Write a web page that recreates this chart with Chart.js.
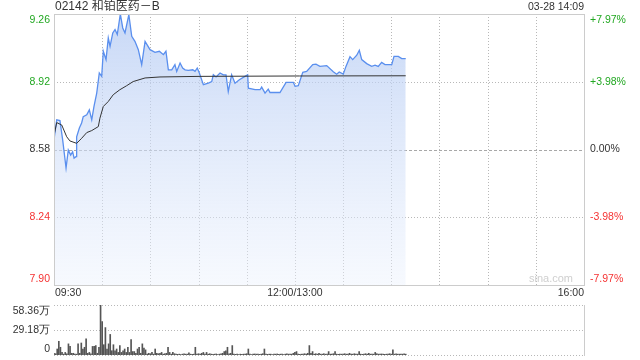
<!DOCTYPE html>
<html>
<head>
<meta charset="utf-8">
<script src="https://cdn.jsdelivr.net/npm/chart.js@4/dist/chart.umd.min.js"></script>
<style>
body { margin: 0; background: #fff; }
#wrap { position: relative; width: 640px; height: 360px; }
#wrap canvas { position: absolute; left: 0; top: 0; }
</style>
</head>
<body>
<div id="wrap">
    <canvas id="priceChart" width="640" height="360"></canvas>
    <canvas id="volChart" width="640" height="360"></canvas>
</div>
<script>
// Data (minutes counted from 09:30, lunch break removed)

const title = '02142 和铂医药－B';
const stamp = '03-28 14:09';
const prevClose = 8.58;

const priceTicks = [7.90, 8.24, 8.58, 8.92, 9.26];
const pctTicks = ['-7.97%', '-3.98%', '0.00%', '+3.98%', '+7.97%'];
const gridMinutes = [0, 30, 60, 90, 120, 150, 180, 210, 240, 270, 300, 330];
const timeLabels = ['09:30', '12:00/13:00', '16:00'];
const timeLabelMinutes = [0, 150, 330];

const volTicks = [0, 29.18, 58.36];
const volTickLabels = ['0', '29.18万', '58.36万'];

const priceMinutes = [0, 1.7, 3.7, 5.4, 7.5, 8.9, 10.4, 11.6, 12.5, 13.7, 14.1, 15.8, 17.2, 18.2, 20.4, 22, 23.5, 24.9, 26.6, 28.2,
    29.7, 30.7, 32.4, 33.8, 34.9, 36.6, 38, 39.4, 41.3, 42.8, 44.2, 46.6, 48.4, 50.4, 52.5, 54.6, 56.7, 59.8, 62.9, 65.6,
    68.1, 69.7, 71.2, 73.3, 75.3, 76.4, 78.5, 80.1, 81.6, 83.6, 86.4, 87.8, 89.2, 90.5, 93, 96.1, 98.2, 99.2, 100.9, 103.4,
    105.4, 107.1, 108.5, 110.6, 112.7, 115.4, 118.9, 120.6, 121, 125.2, 128.3, 129.3, 131.4, 133.4, 134.5, 140.7, 144.5, 149, 150.1, 152.1,
    154.9, 157.3, 161.1, 163.1, 165.6, 169.8, 173.9, 176, 177.6, 180.1, 181.8, 184.3, 186, 188.5, 190.1, 191.6, 194.7, 197.8, 199.9, 201.9,
    204, 206.1, 210.3, 211.7, 214.4, 216.5, 219];
const prices = [8.63, 8.729, 8.725, 8.628, 8.487, 8.577, 8.552, 8.569, 8.537, 8.544, 8.644, 8.688, 8.713, 8.745, 8.754, 8.779, 8.729, 8.796, 8.863, 8.964,
    8.947, 9.073, 9.031, 9.14, 9.098, 9.165, 9.182, 9.157, 9.26, 9.19, 9.165, 9.257, 9.148, 9.123, 9.081, 9.006, 9.123, 9.081, 9.068, 9.073,
    9.056, 9.073, 8.98, 8.98, 9.006, 8.972, 9.014, 8.989, 8.98, 8.977, 8.98, 8.972, 8.989, 8.964, 8.905, 8.913, 8.921, 8.955, 8.944, 8.964,
    8.955, 8.955, 8.871, 8.955, 8.913, 8.93, 8.947, 8.955, 8.888, 8.88, 8.88, 8.893, 8.863, 8.883, 8.866, 8.866, 8.917, 8.917, 8.897, 8.9,
    8.967, 8.972, 9.006, 9.008, 8.997, 9.001, 8.97, 8.958, 8.969, 8.958, 8.997, 9.046, 9.031, 9.053, 9.078, 9.031, 9.011, 8.997, 9.003, 8.997,
    9.017, 9.006, 9.006, 9.047, 9.047, 9.036, 9.036];

const avgMinutes = [0, 1.7, 4.8, 7.9, 9.9, 14.1, 17.2, 20.4, 23.5, 27.6, 28.6, 30.7, 33.8, 36.9, 41, 45.2, 49.3, 56.7, 66, 90.9, 153, 219];
const avgPrices = [8.65, 8.715, 8.703, 8.644, 8.623, 8.611, 8.636, 8.665, 8.675, 8.695, 8.737, 8.796, 8.821, 8.855, 8.88, 8.9, 8.921, 8.939, 8.944, 8.947, 8.949, 8.95];

// volume per minute, in 万 shares
const volumes = [
    2, 1.5, 7, 16, 9, 3, 1, 3, 1.5, 13, 10, 2, 2, 1.2, 1, 13, 2, 14, 7, 9,
    19, 2, 3, 1.5, 10, 10, 11, 2, 9, 58.4, 39, 12, 32, 7, 13, 24, 5, 12, 5, 7,
    3, 11, 3, 5, 7, 3, 9, 3, 18, 4, 4, 2, 7, 9, 2, 13, 8, 6, 1.2, 2,
    1.5, 3, 1, 7, 2, 1.5, 2, 3, 1, 1.5, 2, 9, 3, 1, 3, 1.5, 1, 0.8, 1, 0.5,
    1, 1.5, 1, 1, 2.5, 1, 0.8, 1, 9, 1, 1.5, 1, 2, 3, 1, 3, 1, 1.5, 1, 0.8,
    1, 1.2, 0.5, 1, 1.5, 2, 4, 5, 9, 1.5, 2, 11, 1, 0.8, 1, 0.5, 1, 0.8, 1, 1,
    1.5, 7, 1, 0.5, 1, 1.2, 1, 1, 0.8, 1, 1.5, 7, 1, 0.8, 1, 1, 0.5, 1, 1, 1.2,
    0.8, 1, 1, 0.5, 1, 1.5, 1, 1, 1, 2, 3, 4, 1, 0.8, 1, 1, 1.5, 1, 2, 11,
    2, 4, 1, 1.5, 1, 2, 1, 1, 1.5, 1, 1, 4, 1, 1, 1.5, 4, 1, 0.8, 1, 1,
    1, 1.5, 1, 1, 2, 1, 1, 1.5, 1, 1, 4, 1, 0.8, 1, 1.5, 1, 2, 1, 1, 1,
    3, 1.5, 1, 1, 1.2, 1, 0.8, 1, 1, 1.5, 1, 6, 1, 1.5, 1, 1, 1.2, 1, 1.5, 1
];

const upColor = '#22a822';
const downColor = '#f53333';
const textColor = '#333';
const labelFont = '10.5px "Liberation Sans", Arial, sans-serif';
const titleFont = '12px "Liberation Sans", Arial, "Noto Sans CJK SC", sans-serif';

// axes take no room: the chart area is set by layout padding only
const bareAxis = {
    ticks: { display: false },
    grid: { display: false, drawTicks: false },
    border: { display: false },
};

// dotted grid lines, drawn by hand from the scales so the dash pattern is certain
const drawDottedGrid = (ctx, a, xs, ys, xValues, yValues) => {
    ctx.save();
    ctx.strokeStyle = '#b8b8b8';
    ctx.lineWidth = 1;
    ctx.setLineDash([1, 2]);
    ctx.beginPath();
    xValues.forEach(v => {
        const px = Math.round(xs.getPixelForValue(v)) + 0.5;
        ctx.moveTo(px, a.top);
        ctx.lineTo(px, a.bottom);
    });
    yValues.forEach(v => {
        const py = Math.round(ys.getPixelForValue(v)) + 0.5;
        ctx.moveTo(a.left, py);
        ctx.lineTo(a.right, py);
    });
    ctx.stroke();
    ctx.restore();
};

// price chart decorations: grid, frame, zero line, labels

const priceDecor = {
    id: 'priceDecor',
    beforeDatasetsDraw(chart) {
        const { ctx, chartArea: a } = chart;
        const xs = chart.scales.x;
        const ys = chart.scales.y;
        drawDottedGrid(ctx, a, xs, ys, gridMinutes.slice(1, -1), priceTicks.slice(1, -1).filter(v => v !== prevClose));
        const y0 = Math.round(ys.getPixelForValue(prevClose)) + 0.5;
        ctx.save();
        ctx.strokeStyle = '#a8a8a8';
        ctx.lineWidth = 1;
        ctx.setLineDash([3, 2]);
        ctx.beginPath();
        ctx.moveTo(a.left, y0);
        ctx.lineTo(a.right, y0);
        ctx.stroke();
        ctx.restore();
    },
    afterDraw(chart) {
        const { ctx, chartArea: a } = chart;
        const ys = chart.scales.y;
        const xs = chart.scales.x;
        ctx.save();
        ctx.strokeStyle = '#ccc';
        ctx.lineWidth = 1;
        ctx.strokeRect(Math.round(a.left) + 0.5, Math.round(a.top) + 0.5, Math.round(a.width), Math.round(a.height));

        ctx.font = titleFont;
        ctx.fillStyle = textColor;
        ctx.textBaseline = 'middle';
        ctx.textAlign = 'left';
        ctx.fillText(title, a.left + 1, 7);
        ctx.font = labelFont;
        ctx.textAlign = 'right';
        ctx.fillText(stamp, a.right, 7);

        priceTicks.forEach((v, i) => {
            let py = ys.getPixelForValue(v);
            if (i === 0) py -= 6;
            if (i === priceTicks.length - 1) py += 6;
            ctx.fillStyle = v > prevClose ? upColor : (v < prevClose ? downColor : textColor);
            ctx.textAlign = 'right';
            ctx.fillText(v.toFixed(2), a.left - 4, py);
            ctx.textAlign = 'left';
            ctx.fillText(pctTicks[i], a.right + 6, py);
        });

        ctx.fillStyle = textColor;
        timeLabels.forEach((t, i) => {
            const px = xs.getPixelForValue(timeLabelMinutes[i]);
            ctx.textAlign = i === 0 ? 'left' : (i === timeLabels.length - 1 ? 'right' : 'center');
            ctx.fillText(t, px + (i === 0 ? 1 : 0), a.bottom + 8);
        });

        ctx.font = '11px "Liberation Sans", Arial, sans-serif';
        ctx.fillStyle = '#cfcfcf';
        ctx.textAlign = 'right';
        ctx.fillText('sina.com', a.right - 11, a.bottom - 6);
        ctx.restore();
    },
};

const showPriceChart = () => {
    const priceData = priceMinutes.map((m, i) => ({ x: m, y: prices[i] }));
    const avgData = avgMinutes.map((m, i) => ({ x: m, y: avgPrices[i] }));

    new Chart(document.getElementById('priceChart'), {
        type: 'line',
        data: {
            datasets: [{
                label: 'avg',
                data: avgData,
                borderColor: '#333',
                borderWidth: 1,
                pointRadius: 0,
                fill: false,
            }, {
                label: 'price',
                data: priceData,
                borderColor: '#5a8fee',
                borderWidth: 1.3,
                pointRadius: 0,
                fill: 'start',
                backgroundColor: (c) => {
                    const a = c.chart.chartArea;
                    if (!a) return 'rgba(200,215,245,0.6)';
                    const g = c.chart.ctx.createLinearGradient(0, a.top, 0, a.bottom);
                    g.addColorStop(0, 'rgba(178,201,243,0.72)');
                    g.addColorStop(1, 'rgba(236,242,253,0.45)');
                    return g;
                },
            }],
        },
        options: {
            responsive: false,
            animation: false,
            devicePixelRatio: 1,
            layout: {
                padding: { left: 54, right: 56, top: 14, bottom: 75 },
            },
            plugins: {
                legend: { display: false },
                tooltip: { enabled: false },
            },
            scales: {
                x: { type: 'linear', min: 0, max: 330, ...bareAxis },
                y: { min: priceTicks[0], max: priceTicks[priceTicks.length - 1], ...bareAxis },
            },
        },
        plugins: [priceDecor],
    });
};

// volume chart

const volDecor = {
    id: 'volDecor',
    beforeDatasetsDraw(chart) {
        const { ctx, chartArea: a } = chart;
        drawDottedGrid(ctx, a, chart.scales.x, chart.scales.y, [], volTicks);
    },
    afterDraw(chart) {
        const { ctx, chartArea: a } = chart;
        const ys = chart.scales.y;
        ctx.save();
        ctx.strokeStyle = '#ccc';
        ctx.lineWidth = 1;
        ctx.beginPath();
        ctx.moveTo(Math.round(a.right) + 0.5, a.top);
        ctx.lineTo(Math.round(a.right) + 0.5, a.bottom + 1);
        ctx.stroke();
        ctx.font = labelFont;
        ctx.fillStyle = textColor;
        ctx.textAlign = 'right';
        ctx.textBaseline = 'middle';
        volTicks.forEach((v, i) => {
            let py = ys.getPixelForValue(v);
            if (i === 0) py -= 6;
            if (i === volTicks.length - 1) py += 6;
            ctx.fillText(volTickLabels[i], a.left - 4, py);
        });
        ctx.restore();
    },
};

const showVolumeChart = () => {
    const volData = volumes.map((v, i) => ({ x: i, y: v }));

    new Chart(document.getElementById('volChart'), {
        type: 'bar',
        data: {
            datasets: [{
                label: 'volume',
                data: volData,
                backgroundColor: '#555',
                barThickness: 1,
            }],
        },
        options: {
            responsive: false,
            animation: false,
            devicePixelRatio: 1,
            layout: {
                padding: { left: 54, right: 56, top: 305, bottom: 5 },
            },
            plugins: {
                legend: { display: false },
                tooltip: { enabled: false },
            },
            scales: {
                x: { type: 'linear', min: 0, max: 330, offset: false, ...bareAxis },
                y: { min: volTicks[0], max: volTicks[volTicks.length - 1], ...bareAxis },
            },
        },
        plugins: [volDecor],
    });
};

window.addEventListener('load', () => {
    showPriceChart();
    showVolumeChart();
});
</script>
</body>
</html>
